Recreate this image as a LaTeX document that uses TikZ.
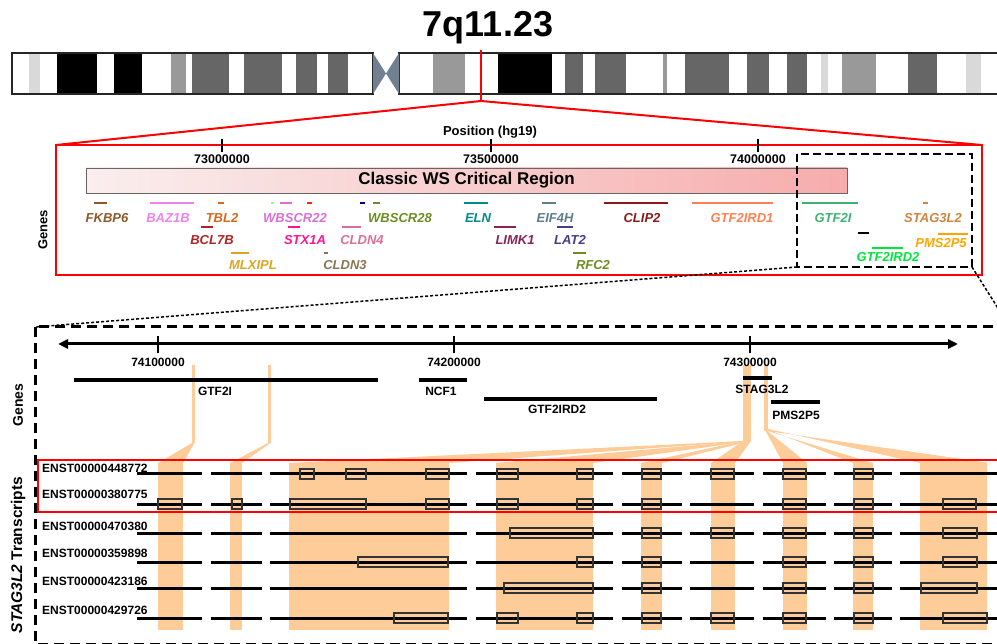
\documentclass[tikz,border=0pt]{standalone}
\usepackage{fontspec}
\setmainfont{Liberation Sans}
\usetikzlibrary{calc,arrows.meta}

\definecolor{peche}{RGB}{253,204,153}
\definecolor{centro}{RGB}{112,128,144}
\definecolor{bande_claire}{RGB}{217,217,217}
\definecolor{bande_moy}{RGB}{153,153,153}
\definecolor{bande_fonce}{RGB}{102,102,102}
\definecolor{c_fkbp}{RGB}{140,90,40}
\definecolor{c_baz}{RGB}{238,130,238}
\definecolor{c_tbl}{RGB}{210,105,30}
\definecolor{c_bcl}{RGB}{178,34,34}
\definecolor{c_mlx}{RGB}{218,165,32}
\definecolor{c_wb22}{RGB}{218,112,214}
\definecolor{c_stx}{RGB}{255,20,147}
\definecolor{c_cl4}{RGB}{219,112,147}
\definecolor{c_cl3}{RGB}{139,115,85}
\definecolor{c_wb28}{RGB}{107,142,35}
\definecolor{c_eln}{RGB}{0,139,139}
\definecolor{c_limk}{RGB}{139,34,82}
\definecolor{c_eif}{RGB}{96,123,139}
\definecolor{c_lat}{RGB}{72,61,139}
\definecolor{c_rfc}{RGB}{110,139,30}
\definecolor{c_clip}{RGB}{139,26,26}
\definecolor{c_ird1}{RGB}{255,127,80}
\definecolor{c_gtf}{RGB}{60,179,113}
\definecolor{c_stag}{RGB}{205,133,63}
\definecolor{c_pms}{RGB}{255,165,0}
\definecolor{c_ird2}{RGB}{0,230,60}

\begin{document}
\begin{tikzpicture}[x=1pt,y=-1pt]
    \tikzstyle {gene} = [font=\bfseries\itshape\fontsize{13}{13}\selectfont, inner sep=0pt]
    \tikzstyle {gene_noir} = [font=\bfseries\fontsize{12}{12}\selectfont, inner sep=0pt]
    \tikzstyle {graduation} = [font=\bfseries\fontsize{12.5}{12.5}\selectfont, inner sep=0pt]
    \tikzstyle {transcrit} = [font=\bfseries\fontsize{12}{12}\selectfont, inner sep=0pt, anchor=west]
    \tikzstyle {axe_titre} = [font=\bfseries\fontsize{14}{14}\selectfont, inner sep=0pt, rotate=90]
    \tikzstyle {tirets} = [line width=3pt, dash pattern=on 10pt off 6pt]
    \tikzstyle {lien} = [line width=1.5pt, dash pattern=on 3pt off 2pt]
    \useasboundingbox (0,0) rectangle (997,644);
    \clip (0,0) rectangle (997,644);
    % Chromosome
    \foreach \a/\b/\c in {29/40/bande_claire, 57/97/black, 114/142/black, 171/186/bande_moy, 192/229/bande_fonce, 244/282/bande_fonce, 296/317/bande_fonce, 328/348/bande_fonce, 433/465/bande_moy, 498/552/black, 565/583/bande_fonce, 595/626/bande_fonce, 663/667/bande_moy, 685/729/bande_fonce, 747/769/bande_fonce, 787/807/bande_fonce, 821/828/bande_claire, 842/876/bande_moy, 908/937/bande_fonce, 966/981/bande_claire}
        \fill[\c] (\a,53) rectangle (\b,94);
    \draw[line width=1.5pt, black!85] (12,53) rectangle (373,94);
    \draw[line width=1.5pt, black!85] (399,53) rectangle (1005,94);
    \fill[centro] (373,53) -- (386,73.5) -- (373,94) -- cycle;
    \fill[centro] (399,53) -- (386,73.5) -- (399,94) -- cycle;
    \node (titre) [anchor=base, inner sep=0pt, font=\bfseries\fontsize{36}{36}\selectfont] at (488,37) {7q11.23};
    \coordinate (marque_haut) at (481,50);
    \coordinate (marque_bas) at (481,101);
    % Region classique
    \coordinate (rouge_haut_gauche) at (56,145);
    \coordinate (rouge_bas_droite) at (982,275);
    \draw[red, line width=2.5pt] (marque_haut) -- (marque_bas);
    \draw[red, line width=2pt] (marque_bas) -- (rouge_haut_gauche);
    \draw[red, line width=2pt] (marque_bas) -- (rouge_haut_gauche -| rouge_bas_droite);
    \draw[red, line width=2.5pt] (rouge_haut_gauche) rectangle (rouge_bas_droite);
    \node (position) [graduation, font=\bfseries\fontsize{13}{13}\selectfont] at (490,132) {Position (hg19)};
    \foreach \x/\lab in {222/73000000, 491/73500000, 758/74000000} {
        \draw[line width=1.5pt] (\x,139) -- (\x,152);
        \node (grad_\lab) [graduation] at (\x,159) {\lab};
    }
    \node (ws) [draw=black!60, line width=0.8pt, minimum width=761pt, minimum height=25pt, inner sep=0pt,
        left color={rgb,255:red,250;green,238;blue,238}, right color={rgb,255:red,247;green,172;blue,172},
        font=\bfseries\fontsize{17}{17}\selectfont] at (466.5,180.5) {Classic WS Critical Region};
    \foreach \xa/\xb/\yy/\lx/\ly/\n/\c in {94/107/203/107/218/FKBP6/c_fkbp, 150/194/203/168/218/BAZ1B/c_baz,
        218/224/203/222/218/TBL2/c_tbl, 201/213/227/212/240/BCL7B/c_bcl, 231/249/253/253/265/MLXIPL/c_mlx,
        280/292/203/295/218/WBSCR22/c_wb22, 288/300/227/305/240/STX1A/c_stx, 342/361/227/362/240/CLDN4/c_cl4,
        324/328/253/345/265/CLDN3/c_cl3, 373/380/203/400/218/WBSCR28/c_wb28, 464/488/203/478/218/ELN/c_eln,
        494/516/227/515/240/LIMK1/c_limk, 542/556/203/555/218/EIF4H/c_eif, 557/573/227/570/240/LAT2/c_lat,
        573/586/253/593/265/RFC2/c_rfc, 604/668/203/642/218/CLIP2/c_clip, 692/773/203/742/218/GTF2IRD1/c_ird1,
        802/858/203/833/218/GTF2I/c_gtf, 923/928/203/933/218/STAG3L2/c_stag, 938/968/234/941/243/PMS2P5/c_pms,
        872/903/248/888/257/GTF2IRD2/c_ird2} {
        \draw[\c, line width=2pt] (\xa,\yy) -- (\xb,\yy);
        \node (haut_\n) [gene, text=\c] at (\lx,\ly) {\n};
    }
    \draw[green!45, line width=2pt] (271,203) -- (274,203);
    \draw[red!70!orange, line width=2pt] (307,203) -- (312,203);
    \draw[blue!50!black, line width=2pt] (360,203) -- (365,203);
    \draw[black, line width=2pt] (858,233) -- (869,233);
    \node (genes_haut) [axe_titre, font=\bfseries\fontsize{13}{13}\selectfont] at (43,230) {Genes};
    % Zoom STAG3L2
    \coordinate (petit_haut_gauche) at (797,154);
    \coordinate (petit_bas_droite) at (972,267);
    \coordinate (grand_haut_gauche) at (35,327);
    \coordinate (grand_bas_droite) at (1005,644);
    \coordinate (lien_droite) at (1001,313);
    \draw[line width=2.5pt, dash pattern=on 8pt off 4pt] (petit_haut_gauche) rectangle (petit_bas_droite);
    \draw[lien] (petit_haut_gauche |- petit_bas_droite) -- (grand_haut_gauche);
    \draw[lien] (petit_bas_droite) -- (lien_droite);
    \draw[tirets] (grand_haut_gauche) rectangle (grand_bas_droite);
    % Exons communs
    \foreach \a/\b in {158/183, 230/242, 289/449, 496/593, 641/662, 711/735, 783/807, 853/873, 920/987}
        \fill[peche] (\a,463) rectangle (\b,630);
    \fill[peche] (192,365) rectangle (194.5,443);
    \fill[peche] (158,463) -- (192,443) -- (194.5,443) -- (183,463) -- cycle;
    \fill[peche] (268,365) rectangle (270.5,443);
    \fill[peche] (230,463) -- (268,443) -- (270.5,443) -- (242,463) -- cycle;
    \fill[peche] (743,365) rectangle (751,441);
    \foreach \a/\b in {289/449, 496/593, 641/662, 711/735}
        \fill[peche] (\a,463) -- (743,441) -- (751,441) -- (\b,463) -- cycle;
    \fill[peche] (764,365) rectangle (767.5,431);
    \foreach \a/\b in {783/807, 853/873, 920/990}
        \fill[peche] (\a,463) -- (764,428) -- (767.5,431) -- (\b,463) -- cycle;
    % Axe
    \coordinate (axe_gauche) at (58,344);
    \coordinate (axe_droite) at (958,344);
    \draw[line width=3pt, {Triangle[length=10pt,width=9pt]}-{Triangle[length=10pt,width=9pt]}] (axe_gauche) -- (axe_droite);
    \foreach \x/\lab in {158/74100000, 454/74200000, 750/74300000} {
        \draw[line width=1.5pt] (\x,336) -- (\x,353);
        \node (grad_\lab) [graduation, font=\bfseries\fontsize{12}{12}\selectfont] at (\x,362) {\lab};
    }
    % Genes
    \foreach \xa/\xb/\yy/\lx/\ly/\n in {74/378/380/215/391/GTF2I, 419/467/380/441/391/NCF1,
        484/657/399/557/409/GTF2IRD2, 743/772/378/762/389/STAG3L2, 771/820/402/796/415/PMS2P5} {
        \draw[line width=3.5pt] (\xa,\yy) -- (\xb,\yy);
        \node (bas_\n) [gene_noir] at (\lx,\ly) {\n};
    }
    \node (genes_bas) [axe_titre] at (18,405) {Genes};
    \node (transcrits) [axe_titre, font=\bfseries\fontsize{15.5}{15.5}\selectfont] at (18,555) {\textit{STAG3L2} Transcripts};
    % Transcrits
    \foreach \y/\ly/\nom/\exons in {
        474/468/ENST00000448772/{300/314,346/366,426/449,497/518,577/593,642/661,711/734,783/806,854/873},
        504/494/ENST00000380775/{158/182,232/242,290/366,426/449,497/518,577/593,642/661,783/806,854/873,943/976},
        533/526/ENST00000470380/{510/593,642/661,711/734,783/806,854/873,943/977},
        562/553/ENST00000359898/{358/448,577/593,642/661,783/806,854/873,943/977},
        588/581/ENST00000423186/{504/593,642/661,783/806,854/873,921/977},
        618/610/ENST00000429726/{394/448,497/518,577/593,642/661,711/734,783/806,854/873,943/987}} {
        \node (\nom) [transcrit] at (42,\ly) {\nom};
        \foreach \a/\b in {137/202, 211/262, 270/467, 476/613, 622/682, 690/754, 763/826, 834/892, 900/1000}
            \draw[line width=3pt] (\a,\y) -- (\b,\y);
        \foreach \a/\b in \exons
            \draw[line width=1.3pt, black!80] (\a,\y-5) rectangle (\b,\y+5);
    }
    \draw[red, line width=2.5pt] (38,460) rectangle (1005,512);
\end{tikzpicture}
\end{document}
